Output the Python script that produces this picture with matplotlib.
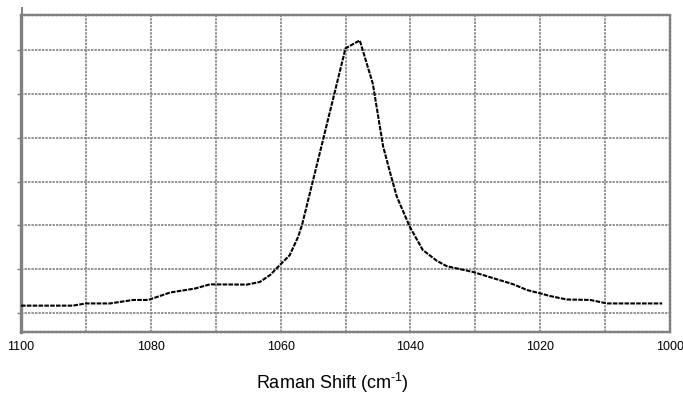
import matplotlib
matplotlib.use("Agg")
import matplotlib.pyplot as plt

# -------------------------------
# Spectrum values
# -------------------------------
raman_shift = [1100, 1092, 1090, 1086.3, 1082.7, 1080.4, 1077, 1073.2, 1070.9,
               1065.2, 1063.2, 1061.6, 1060.1, 1058.6, 1057.3, 1056.7, 1053.3,
               1050, 1047.8, 1045.8, 1044.2, 1042.9, 1042.1, 1040.1, 1038.1,
               1035.9, 1034.4, 1030.4, 1026.2, 1024.2, 1022, 1020, 1018.5,
               1015.9, 1012.3, 1009.7, 1001.2]
intensity = [0.17, 0.17, 0.22, 0.22, 0.30, 0.30, 0.47, 0.56, 0.655,
             0.65, 0.71, 0.87, 1.10, 1.32, 1.74, 2.01, 4.05,
             6.04, 6.22, 5.24, 3.80, 3.08, 2.66, 1.97, 1.44,
             1.19, 1.07, 0.94, 0.75, 0.66, 0.525, 0.45, 0.39,
             0.31, 0.30, 0.22, 0.22]

x_ticks = [1100, 1080, 1060, 1040, 1020, 1000]
x_grid = [1100, 1090, 1080, 1070, 1060, 1050, 1040, 1030, 1020, 1010, 1000]
y_grid = [0, 1, 2, 3, 4, 5, 6]

plt.rcParams["font.family"] = ["Liberation Sans", "DejaVu Sans"]
plt.rcParams["mathtext.fontset"] = "custom"
plt.rcParams["mathtext.rm"] = "Liberation Sans"
plt.rcParams["mathtext.it"] = "Liberation Sans"

grid_gray = "#808080"

fig = plt.figure(figsize=(6.83, 3.94), dpi=100)
ax = fig.add_axes([21 / 683, 1 - 331.5 / 394, 649 / 683, 316.5 / 394])

# grid
for gx in x_grid:
    ax.axvline(gx, color=grid_gray, lw=1.2, ls=(0, (1.4, 0.7)), zorder=1)
for gy in y_grid:
    ax.axhline(gy, color=grid_gray, lw=1.2, ls=(0, (1.4, 0.7)), zorder=1)

# spectrum
ax.plot(raman_shift, intensity, color="black", lw=1.5, ls=(0, (2.2, 0.6)), zorder=3)

ax.set_xlim(1100, 1000)
ax.set_ylim(-0.42, 6.80)

ax.set_xticks(x_ticks)
ax.set_xticklabels([str(t) for t in x_ticks], fontsize=9)
ax.tick_params(axis="x", length=0, pad=6.5)
ax.set_yticks(y_grid)
ax.set_yticklabels([])
ax.tick_params(axis="y", length=3, width=1, color=grid_gray, direction="out")

for side in ["top", "right", "bottom"]:
    ax.spines[side].set_color(grid_gray)
    ax.spines[side].set_linewidth(1.7)
    ax.spines[side].set_linestyle((0, (1.2, 0.5)))
ax.spines["left"].set_color(grid_gray)
ax.spines["left"].set_linewidth(2.4)

# little stub of the axis above the frame
ax.plot([0.002, 0.002], [1.0, 1.022], transform=ax.transAxes, color=grid_gray,
        lw=1.4, clip_on=False)

fig.text(332.5 / 683, 1 - 389 / 394, "Raman Shift (cm$^{\u2010\\mathregular{1}}$)",
         ha="center", va="baseline", fontsize=13)

fig.savefig("out.png", dpi=100)
